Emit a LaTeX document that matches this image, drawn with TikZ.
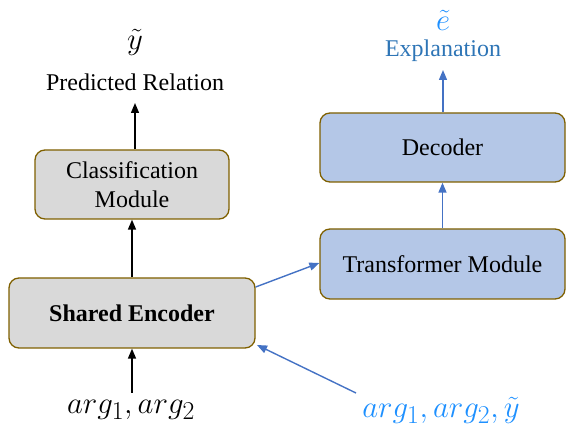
\documentclass[tikz,border=0pt]{standalone}
\usepackage{fontspec}
\setmainfont{Liberation Serif}
\newfontfamily\tnr{Liberation Serif}
\usetikzlibrary{arrows.meta}
\definecolor{boxgray}{HTML}{D9D9D9}
\definecolor{boxblue}{HTML}{B4C7E7}
\definecolor{boxedge}{HTML}{7F6000}
\definecolor{arrblue}{HTML}{4472C4}
\definecolor{txtblue}{HTML}{2E75B6}
\definecolor{mathblue}{HTML}{1E90FF}
\newcommand{\mybigmath}[1]{\scalebox{1.24}{$#1$}}
\begin{document}
\begin{tikzpicture}[x=1pt,y=-1pt,
  box/.style={draw=boxedge, line width=1.3pt, rounded corners=10pt, inner sep=0pt, align=center, font=\tnr\fontsize{24}{29}\selectfont},
  graybox/.style={box, fill=boxgray},
  bluebox/.style={box, fill=boxblue},
  blk/.style={line width=1.4pt, -{Triangle[length=10pt,width=8pt]}},
  blu/.style={line width=1.4pt, draw=arrblue, -{Triangle[length=10pt,width=8pt]}, arrblue},
  lbl/.style={font=\tnr\fontsize{24}{28}\selectfont, inner sep=0pt},
  mth/.style={font=\fontsize{24.88}{30}\selectfont, inner sep=0pt}
]
\useasboundingbox (0,0) rectangle (566,433);
% boxes
\node[graybox, minimum width=194pt, minimum height=69pt] (cls) at (132,184.5) {Classification\\Module};
\node[graybox, minimum width=246pt, minimum height=70pt] (enc) at (132,313) {\textbf{Shared Encoder}};
\node[bluebox, minimum width=245pt, minimum height=69pt] (dec) at (442.5,147.5) {Decoder};
\node[bluebox, minimum width=245pt, minimum height=70pt] (trf) at (442.5,264) {Transformer Module};
% labels
\node[mth] (yt) at (135,42) {\mybigmath{\tilde{y}}};
\node[lbl] (pr) at (135,82) {Predicted Relation};
\node[mth, text=mathblue] (et) at (443,20) {\mybigmath{\tilde{e}}};
\node[lbl, text=txtblue] (ex) at (443,51) {Explanation};
\node[mth] (in1) at (131,410) {\mybigmath{arg_1, arg_2}};
\node[mth, text=mathblue] (in2) at (441,410) {\mybigmath{arg_1, arg_2, \tilde{y}}};
\coordinate (prb) at (135,103);
\coordinate (exb) at (443,70);
\coordinate (in1t) at (132,393);
\coordinate (in2t) at (356,393);
% connectors
\draw[blk] (cls.north -| prb) -- (prb);
\draw[blk] (enc.north -| cls.south) -- (cls.south);
\draw[blk] (in1t) -- (in1t |- enc.south);
\draw[blu] (dec.north -| exb) -- (exb);
\draw[blu] (trf.north) -- (dec.south);
\draw[blu] (enc.east |- 0,287) -- (trf.west |- 0,263);
\draw[blu] (in2t) -- (257,345);
\end{tikzpicture}
\end{document}
